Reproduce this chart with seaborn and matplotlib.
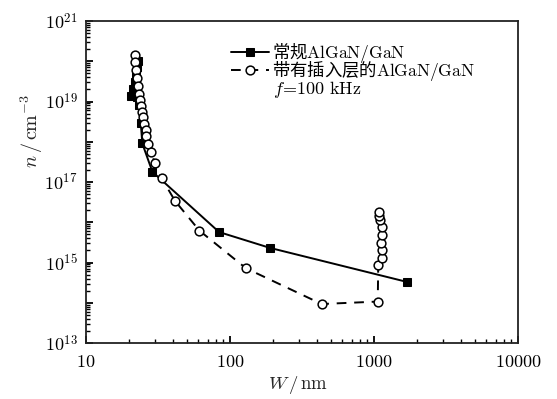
import numpy as np
import pandas as pd
import matplotlib
matplotlib.use("Agg")
import matplotlib.pyplot as plt
import seaborn as sns

# ---- data ----
conv_W = [22.8, 22.6, 22.4, 22.0, 21.2, 20.5, 22.5, 23.5, 24.0, 24.6, 28.9, 84, 190, 1690]
conv_n = [1.0e20, 7e19, 4.5e19, 3e19, 2e19, 1.4e19, 1.3e19, 8e18, 3e18, 9.1e17, 1.8e17, 5.7e15, 2.3e15, 3.3e14]

ins_W = [21.9, 21.9, 22.2, 22.6, 23.0, 23.3, 23.7, 24.1, 24.3, 24.9, 25.4, 26.0, 26.3, 27.1,
         28.3, 30.1, 33.5, 41.5, 61.3, 129, 433, 1062,
         1070, 1130, 1130, 1110, 1130, 1130, 1100, 1085, 1080]
ins_n = [1.4e20, 9.6e19, 6.2e19, 3.9e19, 2.4e19, 1.55e19, 1.1e19, 7.7e18, 5.5e18, 4.1e18, 2.8e18, 2.0e18, 1.4e18, 9e17,
         5.6e17, 2.9e17, 1.25e17, 3.4e16, 6.2e15, 7.2e14, 9.3e13, 1.07e14,
         8.7e14, 1.27e15, 2.0e15, 3.05e15, 4.8e15, 7.8e15, 1.15e16, 1.4e16, 1.8e16]

label_conv = r"常规$\mathrm{AlGaN/GaN}$"
label_ins = r"带有插入层的$\mathrm{AlGaN/GaN}$"
freq_text = r"$f\!=\!100\ \mathrm{kHz}$"
x_ticks = [10, 100, 1000, 10000]
x_ticklabels = [r"$\mathrm{10}$", r"$\mathrm{100}$", r"$\mathrm{1000}$", r"$\mathrm{10000}$"]
y_ticklabels = [r"$10^{13}$", r"$10^{15}$", r"$10^{17}$", r"$10^{19}$", r"$10^{21}$"]

sns.set_style("white")
plt.rcParams["font.family"] = ["Noto Sans CJK SC", "DejaVu Sans"]
plt.rcParams["mathtext.fontset"] = "cm"
plt.rcParams["axes.unicode_minus"] = False

fig = plt.figure(figsize=(5.57, 3.99), dpi=100)
ax = fig.add_axes([86/557, 1-343/399, (518-86)/557, (343-21)/399])

df_c = pd.DataFrame({"W": conv_W, "n": conv_n})
df_i = pd.DataFrame({"W": ins_W, "n": ins_n})

sns.lineplot(data=df_c, x="W", y="n", sort=False, estimator=None, ax=ax,
             color="black", lw=1.4, marker="s", markersize=5.5,
             markerfacecolor="black", markeredgecolor="black", label=label_conv, zorder=3)
sns.lineplot(data=df_i, x="W", y="n", sort=False, estimator=None, ax=ax,
             color="black", lw=1.4, linestyle=(0, (5, 4)), marker="o", markersize=6.3,
             markerfacecolor="white", markeredgecolor="black", markeredgewidth=1.1,
             label=label_ins, zorder=4)

ax.set_xscale("log")
ax.set_yscale("log")
ax.set_xlim(10, 10000)
ax.set_ylim(1e13, 1e21)

ax.set_xticks(x_ticks)
ax.set_xticklabels(x_ticklabels)
ax.set_yticks([10.0**k for k in range(13, 22)])
ax.set_yticklabels([y_ticklabels[(k-13)//2] if (k-13) % 2 == 0 else "" for k in range(13, 22)])
ax.xaxis.set_minor_locator(matplotlib.ticker.LogLocator(base=10, subs=np.arange(2, 10), numticks=20))
ax.yaxis.set_minor_locator(matplotlib.ticker.LogLocator(base=10, subs=np.arange(2, 10), numticks=20))
ax.xaxis.set_minor_formatter(matplotlib.ticker.NullFormatter())
ax.yaxis.set_minor_formatter(matplotlib.ticker.NullFormatter())
ax.tick_params(which="both", direction="in", left=True, bottom=True, top=False, right=False,
               colors="black", labelsize=13)
ax.tick_params(which="major", length=5, width=1.3)
ax.tick_params(which="minor", length=3, width=1.0)
ax.tick_params(axis="x", pad=7)
ax.tick_params(axis="y", pad=6)
for s in ax.spines.values():
    s.set_color("#222222")
    s.set_linewidth(1.3)

ax.set_xlabel(r"$W\,/\,\mathrm{nm}$", fontsize=13.5)
ax.set_ylabel(r"$n\,/\,\mathrm{cm}^{-3}$", fontsize=14.5)
ax.xaxis.set_label_coords(0.49, -0.095)
ax.yaxis.set_label_coords(-0.095, 0.66)

leg = ax.legend(loc="upper left", bbox_to_anchor=(222/557, 1-32/399), bbox_transform=fig.transFigure,
                frameon=False, fontsize=12.5, handlelength=2.2, handletextpad=0.2,
                borderpad=0, labelspacing=-0.3)
for t in leg.get_texts():
    t.set_color("black")
fig.text(273/557, 1-89/399, freq_text, fontsize=13, ha="left", va="center", color="black")

fig.savefig("out.png", dpi=100)
